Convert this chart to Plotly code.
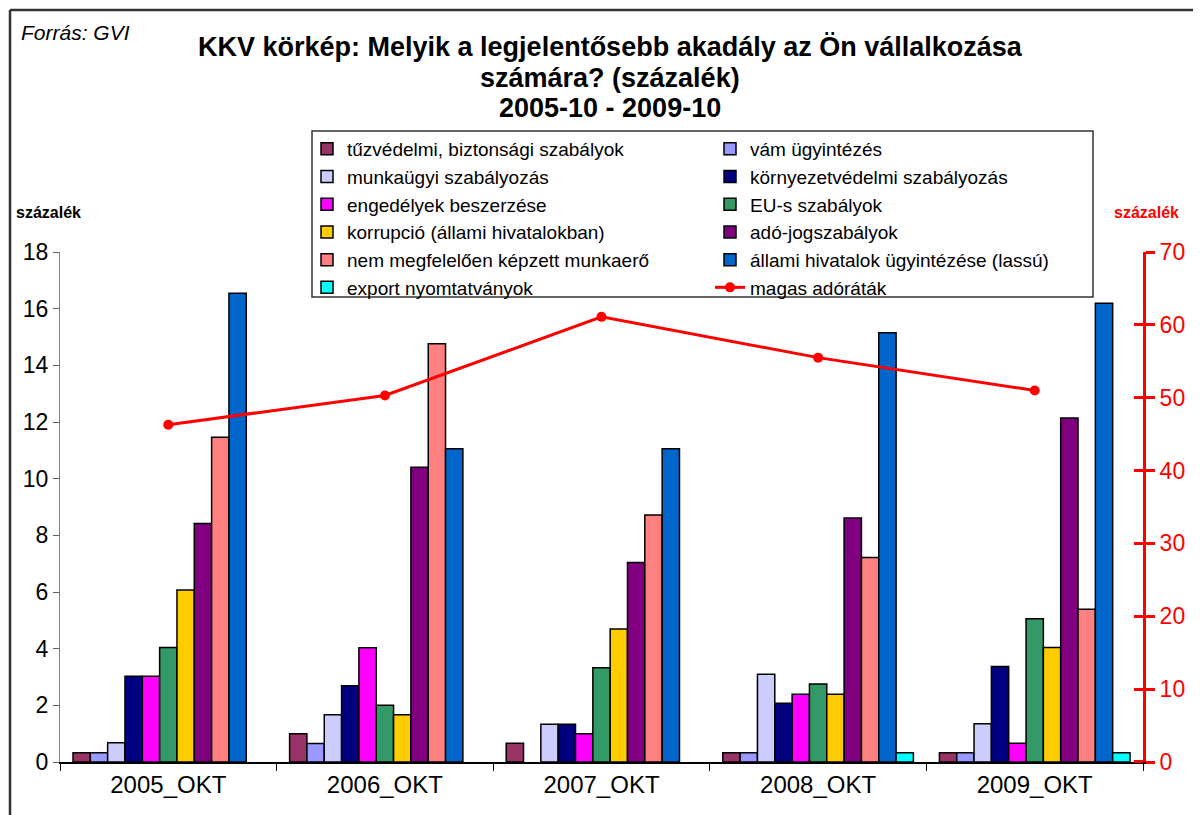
import plotly.graph_objects as go

years = ["2005_OKT", "2006_OKT", "2007_OKT", "2008_OKT", "2009_OKT"]

tuzvedelmi = [0.33, 1.0, 0.66, 0.33, 0.33]
vam = [0.33, 0.65, None, 0.33, 0.33]
munkaugyi = [0.68, 1.67, 1.33, 3.1, 1.35]
kornyezet = [3.03, 2.69, 1.33, 2.07, 3.37]
engedelyek = [3.03, 4.03, 1.0, 2.39, 0.66]
eus = [4.04, 2.0, 3.33, 2.75, 5.06]
korrupcio = [6.07, 1.67, 4.69, 2.39, 4.04]
ado_jog = [8.42, 10.4, 7.04, 8.61, 12.14]
munkaero = [11.46, 14.76, 8.72, 7.22, 5.39]
allami = [16.54, 11.06, 11.06, 15.15, 16.19]
export = [None, None, None, 0.33, 0.33]
adorata = [46.3, 50.3, 61.1, 55.5, 51.0]

bar_series = [
    ("tűzvédelmi, biztonsági szabályok", tuzvedelmi, "#993366", "legend"),
    ("vám ügyintézés", vam, "#9999FF", "legend2"),
    ("munkaügyi szabályozás", munkaugyi, "#CCCCFF", "legend"),
    ("környezetvédelmi szabályozás", kornyezet, "#000080", "legend2"),
    ("engedélyek beszerzése", engedelyek, "#FF00FF", "legend"),
    ("EU-s szabályok", eus, "#339966", "legend2"),
    ("korrupció (állami hivatalokban)", korrupcio, "#FFCC00", "legend"),
    ("adó-jogszabályok", ado_jog, "#800080", "legend2"),
    ("nem megfelelően képzett munkaerő", munkaero, "#FF8080", "legend"),
    ("állami hivatalok ügyintézése (lassú)", allami, "#0066CC", "legend2"),
    ("export nyomtatványok", export, "#00FFFF", "legend"),
]

title_lines = [
    "KKV körkép: Melyik a legjelentősebb akadály az Ön vállalkozása",
    "számára? (százalék)",
    "2005-10 - 2009-10",
]

FONT = "Liberation Sans, Arial, sans-serif"

fig = go.Figure()
for i, (name, vals, color, leg) in enumerate(bar_series):
    fig.add_trace(go.Bar(
        x=years, y=vals, name=name, legend=leg, legendgroup=f"g{i}",
        marker=dict(color=color, line=dict(color="black", width=1.5)),
    ))

fig.add_trace(go.Scatter(
    x=years, y=adorata, name="magas adóráták", yaxis="y2",
    legend="legend2", legendgroup="g11",
    mode="lines+markers", line=dict(color="#FF0000", width=3),
    marker=dict(color="#FF0000", size=10),
))

# page body has an 8px offset, so the margins are reduced by 8 on the left/top;
# paper coordinates below are relative to the plot area (target 60..1143 x 252..762)
def px(x):
    return (x - 60) / 1083


def py(y):
    return (762 - y) / 510


legend_style = dict(
    font=dict(family=FONT, size=19, color="black"),
    bgcolor="rgba(0,0,0,0)", borderwidth=0,
    yanchor="top", xanchor="left", tracegroupgap=0,
    orientation="v", itemwidth=30, traceorder="normal",
)

annotations = [
    dict(text=f"<b>{line}</b>", xref="paper", yref="paper",
         x=px(610), y=py(yy), xanchor="center", yanchor="middle", showarrow=False,
         font=dict(family=FONT, size=27, color="black"))
    for line, yy in zip(title_lines, [47, 78, 108])
]
annotations += [
    dict(text="<i>Forrás: GVI</i>", xref="paper", yref="paper",
         x=px(19), y=py(32), xanchor="left", yanchor="middle", showarrow=False,
         font=dict(family=FONT, size=21, color="black")),
    dict(text="<b>százalék</b>", xref="paper", yref="paper",
         x=px(14), y=py(212), xanchor="left", yanchor="middle", showarrow=False,
         font=dict(family=FONT, size=16, color="black")),
    dict(text="<b>százalék</b>", xref="paper", yref="paper",
         x=px(1112), y=py(212), xanchor="left", yanchor="middle", showarrow=False,
         font=dict(family=FONT, size=16, color="#FF0000")),
]

fig.update_layout(
    width=1201, height=815,
    margin=dict(l=52, r=66, t=244, b=61),
    paper_bgcolor="white", plot_bgcolor="white",
    font=dict(family=FONT, color="black"),
    barmode="group", bargap=0.12, bargroupgap=0,
    showlegend=True,
    legend=dict(x=px(307), y=py(130), **legend_style),
    legend2=dict(x=px(710), y=py(130), **legend_style),
    xaxis=dict(
        type="category", showline=True, linecolor="black", linewidth=1.5,
        ticks="outside", tickson="boundaries", ticklen=7, tickcolor="black",
        tickfont=dict(size=24, color="black"), showgrid=False,
    ),
    yaxis=dict(
        range=[0, 18], dtick=2, showline=True, linecolor="#808080", linewidth=1,
        ticks="outside", ticklen=6, tickcolor="#606060",
        tickfont=dict(size=23, color="black"), showgrid=False, zeroline=False,
    ),
    yaxis2=dict(
        range=[0, 70], dtick=10, overlaying="y", side="right",
        showline=True, linecolor="#FF0000", linewidth=3,
        ticks="outside", ticklen=9, tickwidth=3, tickcolor="#FF0000",
        minor=dict(ticks="inside", tick0=0.01, dtick=10, ticklen=9,
                   tickwidth=3, tickcolor="#FF0000", showgrid=False),
        tickfont=dict(size=23, color="#FF0000"), showgrid=False, zeroline=False,
    ),
    shapes=[
        dict(type="rect", xref="paper", yref="paper",
             x0=px(312), x1=px(1093), y0=py(297), y1=py(131),
             line=dict(color="#333333", width=1.5), fillcolor="rgba(0,0,0,0)"),
        dict(type="line", xref="paper", yref="paper",
             x0=px(10), x1=px(1210), y0=py(10), y1=py(10),
             line=dict(color="#333333", width=2.5)),
        dict(type="line", xref="paper", yref="paper",
             x0=px(10), x1=px(10), y0=py(10), y1=py(830),
             line=dict(color="#333333", width=2.5)),
    ],
    annotations=annotations,
)

fig.write_html("out.html")
